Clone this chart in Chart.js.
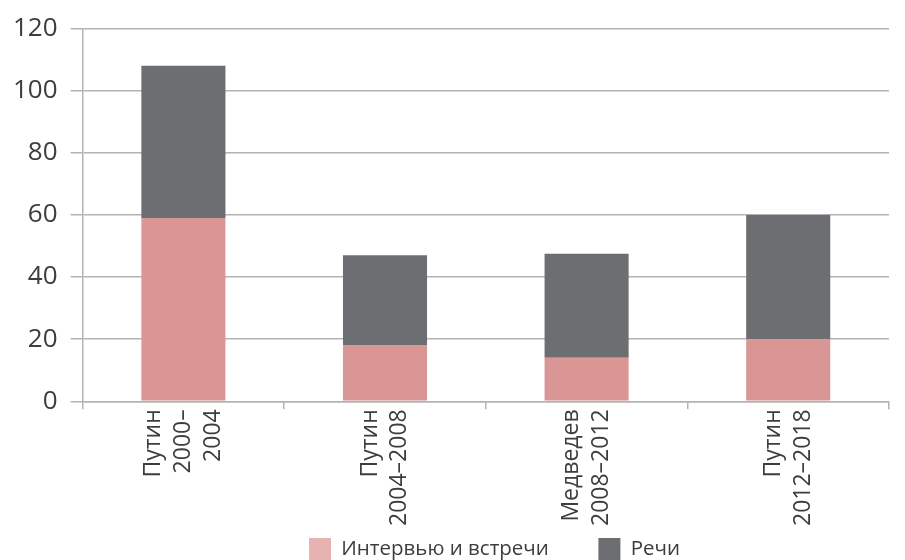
<!DOCTYPE html>
<html>
<head>
<meta charset="utf-8">
<script src="https://cdn.jsdelivr.net/npm/chart.js@4"></script>
<style>
  html, body { margin: 0; padding: 0; background: #fff; }
  #wrap { width: 905px; height: 560px; }
</style>
</head>
<body>
<div id="wrap"><canvas id="grafico"></canvas></div>
<script>
// periods (multi-line labels)
const periods = [
    ['Путин', '2000–', '2004'],
    ['Путин', '2004–2008'],
    ['Медведев', '2008–2012'],
    ['Путин', '2012–2018']
];
const interviews = [59, 18, 14, 20];   // Интервью и встречи
const speeches = [49, 29, 33.5, 40];    // Речи
const yTicks = [0, 20, 40, 60, 80, 100, 120];

const pink = '#d99694';
const gray = '#6d6e71';
const gridColor = '#b3b3b3';
const textColor = '#3d3d3d';
const fontFamily = '"Open Sans", sans-serif';

// rotated multi-line labels: center the block of lines on the tick
// and move the legend a bit to the right, like in the original
const ajustes = {
    id: 'ajustes',
    beforeDraw(chart) {
        const items = chart.scales.x.getLabelItems();
        items.forEach(item => {
            if (item._centrado) return;
            const n = Array.isArray(item.label) ? item.label.length : 1;
            item.textOffset -= (n - 1) * item.font.lineHeight / 2;
            item._centrado = true;
        });
        if (!chart.legend._movida) {
            chart.legend.left += 100;
            chart.legend._movida = true;
        }
    }
};

const ctx = document.getElementById('grafico').getContext('2d');
new Chart(ctx, {
    type: 'bar',
    data: {
        labels: periods,
        datasets: [{
            label: 'Интервью и встречи',
            data: interviews,
            backgroundColor: pink,
            categoryPercentage: 1,
            barPercentage: 0.417
        }, {
            label: 'Речи',
            data: speeches,
            backgroundColor: gray,
            categoryPercentage: 1,
            barPercentage: 0.417
        }]
    },
    options: {
        responsive: true,
        maintainAspectRatio: false,
        animation: false,
        layout: { padding: { top: 5, right: 16, left: 0, bottom: -10 } },
        plugins: {
            tooltip: { enabled: false },
            legend: {
                position: 'bottom',
                labels: {
                    color: textColor,
                    font: { family: fontFamily, size: 20.5 },
                    boxWidth: 22,
                    boxHeight: 22,
                    padding: 12,
                    generateLabels: (chart) => {
                        // legend swatch for pink is a bit lighter than the bars
                        const items = Chart.defaults.plugins.legend.labels.generateLabels(chart);
                        items[0].fillStyle = '#e6b3b2';
                        items[0].text = items[0].text + '\u2003\u2002\u2009\u2009';  // wider gap between items
                        items.forEach(i => { i.lineWidth = 0; i.strokeStyle = 'transparent'; });
                        return items;
                    }
                }
            }
        },
        scales: {
            x: {
                stacked: true,
                grid: {
                    offset: true,
                    drawOnChartArea: false,
                    drawTicks: true,
                    tickLength: 8,
                    color: gridColor,
                    lineWidth: 1.5
                },
                border: { display: true, color: gridColor, width: 1.5 },
                ticks: {
                    color: textColor,
                    font: { family: fontFamily, size: 23, lineHeight: 1.3 },
                    minRotation: 90,
                    maxRotation: 90,
                    autoSkip: false,
                    padding: 0
                }
            },
            y: {
                stacked: true,
                min: 0,
                max: 120,
                afterBuildTicks: (axis) => { axis.ticks = yTicks.map(v => ({ value: v })); },
                grid: {
                    color: gridColor,
                    lineWidth: 1.5,
                    drawTicks: true,
                    tickLength: 12
                },
                border: { display: true, color: gridColor, width: 1.5 },
                ticks: {
                    color: textColor,
                    font: { family: fontFamily, size: 26 },
                    padding: 13
                }
            }
        }
    },
    plugins: [ajustes]
});
</script>
</body>
</html>
